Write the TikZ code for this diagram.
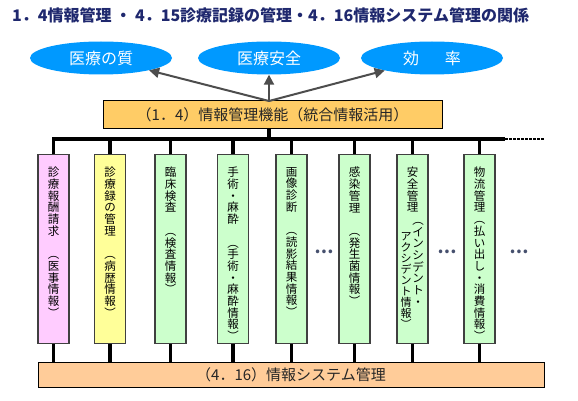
\documentclass[tikz,border=0pt]{standalone}
\usepackage{fontspec}
\newfontfamily\jp{Noto Sans CJK JP}
\usetikzlibrary{arrows.meta,shapes.geometric,positioning}

\definecolor{navy}{RGB}{31,40,110}
\definecolor{sky}{RGB}{0,153,255}
\definecolor{gold}{RGB}{255,204,102}
\definecolor{peach}{RGB}{255,204,153}
\definecolor{pinkbox}{RGB}{255,204,255}
\definecolor{yellowbox}{RGB}{255,255,153}
\definecolor{greenbox}{RGB}{204,255,204}
\definecolor{arrowgray}{RGB}{77,77,77}
\definecolor{dotgray}{RGB}{70,80,110}
\newcommand{\tatefont}{\jp\fontsize{11.5}{11.7}\selectfont}

\begin{document}
\begin{tikzpicture}[x=1pt, y=-1pt,
    goal/.style={ellipse, fill=sky, minimum width=142pt, minimum height=33pt,
      inner sep=0pt, text=white, font=\jp\fontsize{16}{16}\selectfont},
    bar/.style={draw=black, line width=1pt, inner sep=0pt,
      font=\jp\fontsize{15}{15}\selectfont, text=black!85},
    col/.style={draw=black!75, line width=1.2pt, minimum width=31pt,
      minimum height=189pt, inner sep=0pt, anchor=north},
    tate/.style={font=\tatefont, align=center, inner sep=0pt, anchor=north},
    up/.style={draw=arrowgray, line width=2pt, -{Triangle[length=10pt,width=10pt]}},
    wire/.style={line width=3.2pt, line join=miter},
    more/.style={font=\jp\bfseries\fontsize{17}{17}\selectfont, text=dotgray}]

  \useasboundingbox (0,0) rectangle (578,401);

  % title
  \node[anchor=west, inner sep=0pt, text=navy, font=\jp\bfseries\fontsize{16}{16}\selectfont]
    (title) at (12,15) {1．4情報管理 ・ 4．15診療記録の管理・4．16情報システム管理の関係};

  % goals
  \node[goal] (q1) at (101,58) {医療の質};
  \node[goal] (q2) at (269,58) {医療安全};
  \node[goal] (q3) at (432,58) {効\hspace{1.6em}率};

  % (1.4)
  \node[bar, fill=gold, minimum width=339pt, minimum height=28pt] (info) at (272.5,115)
    {（1．4）情報管理機能（統合情報活用）};
  \coordinate (hub) at (269,101);
  \draw[up] (hub) -- (q1);
  \draw[up] (hub) -- (q2);
  \draw[up] (hub) -- (q3);

  % (4.16)
  \node[bar, fill=peach, minimum width=506pt, minimum height=25pt] (sys) at (291,374.5)
    {（4．16）情報システム管理};

  % boxes
  \foreach \x/\c/\n in {53.5/pinkbox/b1, 110/yellowbox/b2, 170.5/greenbox/b3,
      233/greenbox/b4, 291.5/greenbox/b5, 354.5/greenbox/b6,
      412.5/greenbox/b7, 479.5/greenbox/b8}
    \node[col, fill=\c] (\n) at (\x,154) {};

  % bus
  \coordinate (busR) at (505,139);
  \coordinate (busEnd) at (545,139);
  \draw[wire] (b1.north) -- (b1.north |- busR) -- (busR);
  \draw[line width=2.5pt, dash pattern=on 2.5pt off 1.5pt] (busR) -- (busEnd);
  \draw[wire] (info.south -| hub) -- (hub |- busR);
  \foreach \n in {b2,b3,b4,b5,b6,b7,b8}
    \draw[wire] (\n.north) -- (\n.north |- busR);
  \foreach \n in {b1,b2,b3,b4,b5,b6,b7,b8}
    \draw[wire] (\n.south) -- (\n.south |- sys.north);

  % texts
  \node[tate] (t1) at (53.5,167) {診\\療\\報\\酬\\請\\求\\　\\︵\\医\\事\\情\\報\\︶};
  \node[tate] (t2) at (110,167) {診\\療\\録\\の\\管\\理\\　\\︵\\病\\歴\\情\\報\\︶};
  \node[tate] (t3) at (170.5,167) {臨\\床\\検\\査\\　\\︵\\検\\査\\情\\報\\︶};
  \node[tate] (t4) at (233,167) {手\\術\\・\\麻\\酔\\　\\︵\\手\\術\\・\\麻\\酔\\情\\報\\︶};
  \node[tate] (t5) at (291.5,167) {画\\像\\診\\断\\　\\︵\\読\\影\\結\\果\\情\\報\\︶};
  \node[tate] (t6) at (354.5,167) {感\\染\\管\\理\\　\\︵\\発\\生\\菌\\情\\報\\︶};
  \node[tate] (t7) at (412.5,167) {安\\全\\管\\理};
  \node[tate] (t7r) at (418,222) {︵\\イ\\ン\\シ\\デ\\ン\\ト\\・};
  \node[tate, font=\jp\fontsize{11}{11}\selectfont] (t7l) at (406,232)
    {ア\\ク\\シ\\デ\\ン\\ト\\情\\報\\︶};
  \node[tate] (t8) at (479.5,167) {物\\流\\管\\理\\︵\\払\\い\\出\\し\\・\\消\\費\\情\\報\\︶};

  % more
  \node[more] (d1) at (324,252) {…};
  \node[more] (d2) at (447,252) {…};
  \node[more] (d3) at (519,252) {…};
\end{tikzpicture}
\end{document}
